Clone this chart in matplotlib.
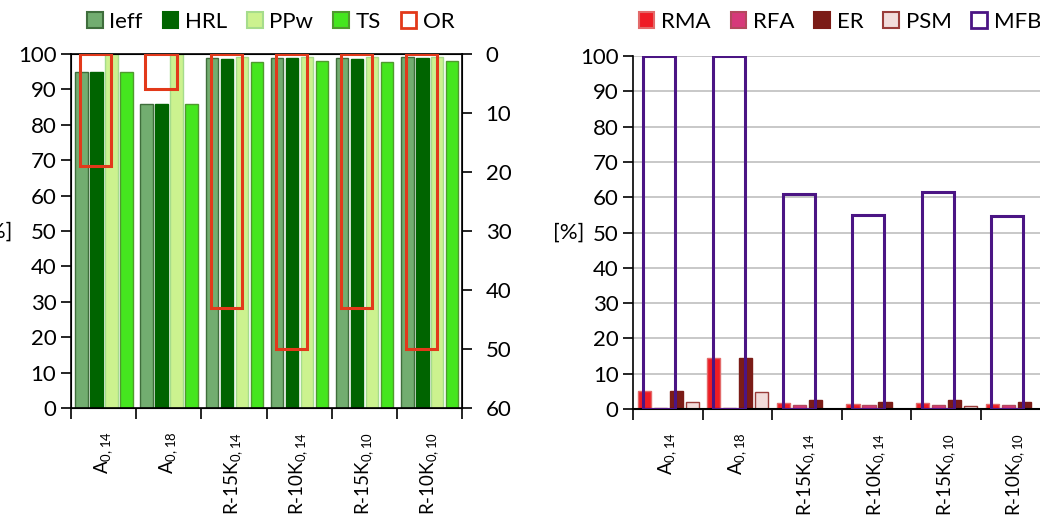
import matplotlib
matplotlib.use("Agg")
import matplotlib.pyplot as plt
import numpy as np
from matplotlib.patches import Patch

plt.rcParams["font.family"] = ["Lato", "DejaVu Sans"]
plt.rcParams["mathtext.fontset"] = "custom"
plt.rcParams["mathtext.rm"] = "Lato"

groups = [r"$\mathregular{A_{0,14}}$", r"$\mathregular{A_{0,18}}$",
          r"$\mathregular{R\text{-}15K_{0,14}}$", r"$\mathregular{R\text{-}10K_{0,14}}$",
          r"$\mathregular{R\text{-}15K_{0,10}}$", r"$\mathregular{R\text{-}10K_{0,10}}$"]

# left chart, primary axis [%]
ieff = [95.0, 86.0, 98.8, 99.0, 98.8, 99.1]
hrl = [94.9, 85.8, 98.5, 98.9, 98.5, 99.0]
ppw = [100.0, 100.0, 99.1, 99.2, 99.2, 99.2]
ts = [95.0, 86.0, 97.8, 98.0, 97.8, 98.0]
# left chart, secondary axis (inverted)
orr = [19.0, 6.0, 43.0, 50.0, 43.0, 50.0]

# right chart [%]
rma = [5.2, 14.4, 1.6, 1.3, 1.6, 1.3]
rfa = [0.2, 0.2, 1.1, 1.1, 1.0, 1.1]
er = [5.1, 14.4, 2.5, 2.0, 2.5, 2.0]
psm = [1.9, 4.9, 0.0, 0.0, 0.8, 0.0]
mfb = [100.0, 100.0, 61.0, 55.0, 61.5, 54.8]

FS = 16
XFS = 13.5
x = np.arange(len(groups))
offsets = [-0.34, -0.11, 0.12, 0.35]
w = 0.19
leg_kw = dict(ncol=5, frameon=False, fontsize=FS, handlelength=0.7, handleheight=0.7,
              handletextpad=0.3, columnspacing=0.9, borderpad=0, borderaxespad=0)

fig = plt.figure(figsize=(10.4, 5.16), dpi=100)

# ---- left chart
ax = fig.add_axes([0.0683, 0.2093, 0.376, 0.686])
left_series = [
    ("Ieff", ieff, "#72ad70", "#3f6e3c"),
    ("HRL", hrl, "#006400", "#006400"),
    ("PPw", ppw, "#ccf28f", "#a6dc8c"),
    ("TS", ts, "#45e61f", "#4f9a2e"),
]
handles = []
for (name, vals, fc, ec), off in zip(left_series, offsets):
    ax.bar(x + off, vals, width=w, color=fc, edgecolor=ec, linewidth=1.0, zorder=2)
    handles.append(Patch(facecolor=fc, edgecolor=ec, linewidth=1.5, label=name))
ax.set_xlim(-0.5, 5.5)
ax.set_ylim(0, 100)
ax.set_yticks(np.arange(0, 101, 10))
ax.tick_params(axis="y", labelsize=FS, length=7, width=1.2)
ax.set_xticks(x)
ax.set_xticklabels(groups, rotation=90, fontsize=XFS, va="top", ha="center")
ax.tick_params(axis="x", length=0, pad=17)
ax.set_xticks(np.arange(-0.5, 6, 1), minor=True)
ax.tick_params(axis="x", which="minor", length=8, width=1.2)
for s in ax.spines.values():
    s.set_linewidth(1.2)

ax2 = ax.twinx()
ax2.bar(x - 0.12, orr, width=0.48, fill=False, edgecolor="#e2391a", linewidth=2.2, zorder=3)
ax2.set_ylim(60, 0)
ax2.set_yticks(np.arange(0, 61, 10))
ax2.tick_params(axis="y", labelsize=FS, length=7, width=1.2, pad=10)
handles.append(Patch(facecolor="white", edgecolor="#e2391a", linewidth=2, label="OR"))
fig.legend(handles=handles, loc="center", bbox_to_anchor=(271 / 1040, 1 - 22 / 516), **leg_kw)
fig.text(12 / 1040, 1 - 232 / 516, "[%]", ha="right", va="center", fontsize=FS)

# ---- right chart
bx = fig.add_axes([0.6087, 0.2074, 0.4015, 0.684])
right_series = [
    ("RMA", rma, "#ee1c25", "#e36a6a"),
    ("RFA", rfa, "#d6397a", "#b3485e"),
    ("ER", er, "#7b1c17", "#7b1c17"),
    ("PSM", psm, "#f2dcdb", "#9a3c3a"),
]
rhandles = []
for (name, vals, fc, ec), off in zip(right_series, offsets):
    bx.bar(x + off, vals, width=w, color=fc, edgecolor=ec, linewidth=1.0, zorder=2)
    rhandles.append(Patch(facecolor=fc, edgecolor=ec, linewidth=1.5, label=name))
bx.bar(x - 0.12, mfb, width=0.46, fill=False, edgecolor="#4b1584", linewidth=2.2, zorder=3)
rhandles.append(Patch(facecolor="white", edgecolor="#4b1584", linewidth=2, label="MFB"))
bx.set_xlim(-0.5, 5.5)
bx.set_ylim(0, 100)
bx.set_yticks(np.arange(0, 101, 10))
bx.yaxis.grid(True, color="#bfbfbf", linewidth=1.2)
bx.set_axisbelow(True)
bx.tick_params(axis="y", labelsize=FS, length=7, width=1.2)
bx.set_xticks(x)
bx.set_xticklabels(groups, rotation=90, fontsize=XFS, va="top", ha="center")
bx.tick_params(axis="x", length=0, pad=17)
bx.set_xticks(np.arange(-0.5, 6, 1), minor=True)
bx.tick_params(axis="x", which="minor", length=8, width=1.2)
bx.spines["top"].set_visible(False)
bx.spines["right"].set_visible(False)
bx.spines["left"].set_linewidth(1.2)
bx.spines["bottom"].set_linewidth(1.5)
bx.set_ylabel("[%]", rotation=0, fontsize=FS, va="center", labelpad=8)
fig.legend(handles=rhandles, loc="center", bbox_to_anchor=(840 / 1040, 1 - 22 / 516), **leg_kw)

fig.savefig("out.png", dpi=100)
